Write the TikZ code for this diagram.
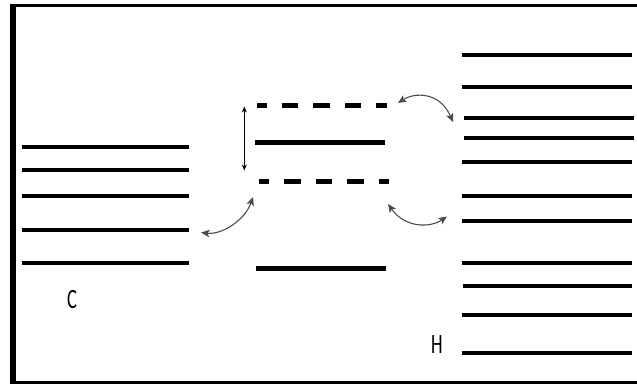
\documentclass[tikz,border=0pt]{standalone}
\usepackage{fontspec}
\setmainfont{Carlito}
\usetikzlibrary{arrows.meta}
\begin{document}
\begin{tikzpicture}[x=1pt,y=-1pt,
  level/.style={line width=4pt},
  midlevel/.style={line width=5pt},
  dashlevel/.style={line width=5pt,dash pattern=on 16.5pt off 15pt,dash phase=6.5pt},
  curvearrow/.style={line width=1.1pt,black!70,{Stealth[length=8.5pt,width=7.5pt,inset=2pt]}-{Stealth[length=8.5pt,width=7.5pt,inset=2pt]}},
  lbl/.style={font=\fontsize{28}{30}\selectfont,inner sep=0pt,xscale=0.66,text=black}]
\useasboundingbox (0,0) rectangle (637,384);
% frame
\draw[line width=2.7pt] (10,5.3) -- (637,5.3);
\draw[line width=6pt] (13.3,4) -- (13.3,384);
\draw[line width=2.5pt] (10,382.5) -- (637,382.5);
% left levels (C)
\foreach \y in {146.7,170.3,196.3,230.3,262.7}
  \draw[level] (22,\y) -- (189,\y);
\node[lbl] (C) at (72,299.5) {C};
% middle levels
\draw[dashlevel] (256.7,105.7) -- (386.7,105.7);
\draw[midlevel] (255,142.7) -- (385,142.7);
\draw[dashlevel] (259.3,181) -- (389.3,181);
\draw[midlevel] (256,268) -- (386,268);
% right levels (H)
\foreach \y in {55,86.7,162.3,196,221.3,262.7,314.7,352.7}
  \draw[level] (462,\y) -- (631.7,\y);
\foreach \y in {118.3,138.3}
  \draw[level] (464.3,\y) -- (634.3,\y);
\draw[level] (463,286) -- (632,286);
\node[lbl] (H) at (437,344.5) {H};
% vertical double arrow
\coordinate (vt) at (244.3,106.5);
\coordinate (vb) at (244.3,170.5);
\draw[line width=0.9pt,{Stealth[length=6pt,width=5pt]}-{Stealth[length=6pt,width=5pt]}] (vt) -- (vb);
% curved arrows
\coordinate (a1s) at (201,232.5);
\coordinate (a1e) at (253,197);
\draw[curvearrow] (a1s) .. controls (222,235) and (245,220) .. (a1e);
\coordinate (a2s) at (388,204);
\coordinate (a2e) at (447,216.5);
\draw[curvearrow] (a2s) .. controls (405,228) and (430,228) .. (a2e);
\coordinate (a3s) at (398,103);
\coordinate (a3e) at (453,122);
\draw[curvearrow] (a3s) .. controls (415,92) and (440,92) .. (a3e);
\end{tikzpicture}
\end{document}
